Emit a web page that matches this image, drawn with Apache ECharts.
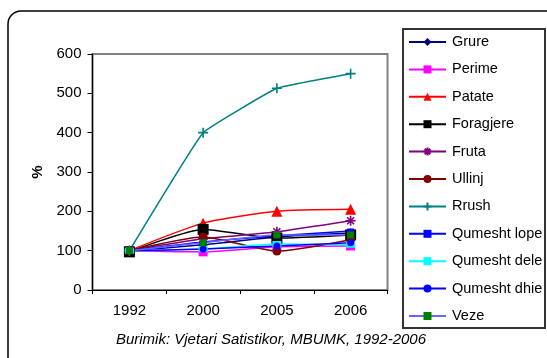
<!DOCTYPE html>
<html><head><meta charset="utf-8">
<script src="https://cdn.jsdelivr.net/npm/echarts@6/dist/echarts.min.js"></script>
<style>html,body{margin:0;padding:0;background:#fff}#c{width:547px;height:358px}</style>
</head><body><div id="c"></div>
<script>
const years = ['1992','2000','2005','2006'];
const grure = [100, 115, 135, 145];
const perime = [100, 97, 110, 112];
const patate = [100, 170, 200, 205];
const foragjere = [97, 154, 132, 140];
const fruta = [100, 130, 148, 176];
const ullinj = [100, 135, 99, 128];
const rrush = [100, 400, 513, 550];
const qLope = [100, 122, 138, 150];
const qDele = [100, 104, 117, 115];
const qDhie = [100, 104, 112, 120];
const veze = [100, 120, 140, 140];
const yTicks = [0, 100, 200, 300, 400, 500, 600];

const STAR = 'path://M0,5 L10,5 M5,0 L5,10 M1.5,1.5 L8.5,8.5 M8.5,1.5 L1.5,8.5';
const PLUS = 'path://M0,5 L10,5 M5,0 L5,10';
const FONT = 'Liberation Sans, Arial, sans-serif';

function s(name, data, color, symbol, size, markColor, stroke, smooth) {
  return {
    name, type: 'line', data, smooth: smooth === undefined ? 0.2 : smooth, symbol, symbolSize: size,
    lineStyle: {color, width: 1.5},
    itemStyle: stroke ? {color: 'rgba(0,0,0,0)', borderColor: markColor, borderWidth: 1.6}
                      : {color: markColor, borderWidth: 0},
    emphasis: {disabled: true}, animation: false
  };
}
const series = [
  s('Grure', grure, '#000080', 'diamond', 9, '#000080'),
  s('Perime', perime, '#FF00FF', 'rect', 9, '#FF00FF'),
  s('Patate', patate, '#FF0000', 'triangle', 11, '#FF0000'),
  s('Foragjere', foragjere, '#000000', 'rect', 11, '#000000'),
  s('Fruta', fruta, '#800080', STAR, 10, '#800080', true),
  s('Ullinj', ullinj, '#800000', 'circle', 9, '#800000'),
  s('Rrush', rrush, '#008080', PLUS, 10, '#008080', true, 0.08),
  s('Qumesht lope', qLope, '#0000FF', 'rect', [7, 5], '#0000FF'),
  s('Qumesht dele', qDele, '#00FFFF', 'rect', [9, 6], '#00FFFF'),
  s('Qumesht dhie', qDhie, '#0000FF', 'circle', 7, '#0000FF'),
  s('Veze', veze, '#6666FF', 'rect', 7, '#008000')
];

const chart = echarts.init(document.getElementById('c'), null, {renderer: 'canvas'});
chart.setOption({
  animation: false,
  textStyle: {fontFamily: FONT},
  grid: {left: 92.5, right: 159.5, top: 54, bottom: 68, show: true, borderColor: '#808080', borderWidth: 2},
  legend: {
    orient: 'vertical', left: 408, top: 34.5, padding: 0, itemWidth: 37, itemHeight: 10, itemGap: 12.4,
    textStyle: {fontSize: 14.5, color: '#000', fontFamily: FONT, padding: [0, 0, 0, 1]},
    data: series.map(x => x.name)
  },
  xAxis: {
    type: 'category', data: years, boundaryGap: true,
    axisLine: {lineStyle: {color: '#000', width: 1.2}},
    axisTick: {show: true, length: 4, alignWithLabel: false, lineStyle: {color: '#000'}},
    axisLabel: {fontSize: 15, color: '#000', margin: 13, fontFamily: FONT}
  },
  yAxis: {
    type: 'value', min: yTicks[0], max: yTicks[yTicks.length - 1], interval: 100,
    name: '%', nameLocation: 'middle', nameRotate: 90, nameGap: 47,
    nameTextStyle: {fontSize: 15, fontWeight: 'bold', color: '#000', fontFamily: FONT},
    axisLine: {show: true, lineStyle: {color: '#000', width: 1.2}},
    axisTick: {show: true, length: 5, lineStyle: {color: '#000'}},
    splitLine: {show: false},
    axisLabel: {fontSize: 15, color: '#000', margin: 11, fontFamily: FONT}
  },
  graphic: [
    {type: 'rect', shape: {x: 8, y: 11, width: 580, height: 400, r: 13}, style: {fill: 'none', stroke: '#000', lineWidth: 1.5}, z: -10},
    {type: 'rect', shape: {x: 403, y: 29, width: 142, height: 299}, style: {fill: 'none', stroke: '#333', lineWidth: 2}},
    {type: 'text', x: 271, y: 340, style: {text: 'Burimik: Vjetari Satistikor, MBUMK, 1992-2006', fontSize: 15, fontStyle: 'italic', fill: '#000', align: 'center', verticalAlign: 'middle', fontFamily: FONT}}
  ],
  series
});
</script></body></html>
